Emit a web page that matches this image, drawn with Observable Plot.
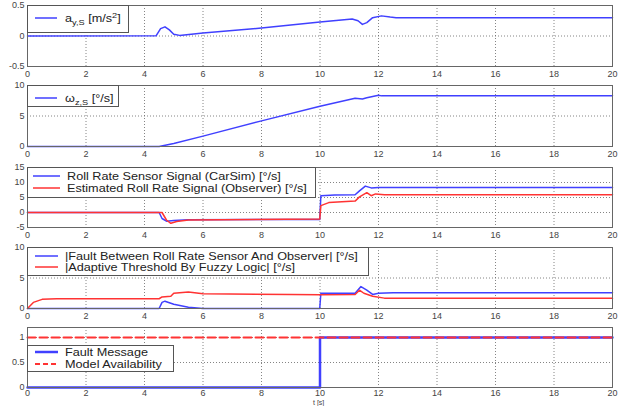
<!DOCTYPE html>
<html><head><meta charset="utf-8">
<script src="https://cdn.jsdelivr.net/npm/d3@7"></script>
<script src="https://cdn.jsdelivr.net/npm/@observablehq/plot@0.6"></script>
<style>
body{margin:0;background:#fff;font-family:"Liberation Sans",Arial,sans-serif;}
#wrap{position:relative;width:623px;height:406px;overflow:hidden;}
.pn{position:absolute;left:0;}
.lg{position:absolute;background:#fff;border:1px solid #555;box-sizing:border-box;}
.lt{position:absolute;font-size:11px;color:#222;white-space:nowrap;line-height:12px;transform:scaleX(1.15);transform-origin:0 50%;}
.ls{position:absolute;}
sub{font-size:8px;vertical-align:-3px;line-height:0;}
sup{font-size:8px;vertical-align:4px;line-height:0;}
</style></head>
<body><div id="wrap"></div>
<script>
// ---- data ----
const xTicks = [0, 2, 4, 6, 8, 10, 12, 14, 16, 18, 20];

// panel 1: lateral acceleration a_y,S [m/s^2]
const ayT = [0, 4.4, 4.55, 4.7, 4.85, 5.0, 5.2, 6, 8, 10, 11.1, 11.3, 11.45, 11.6, 11.8, 12.1, 12.4, 12.6, 15, 20];
const ayV = [0, 0.005, 0.12, 0.15, 0.1, 0.03, 0.01, 0.05, 0.13, 0.23, 0.28, 0.25, 0.19, 0.22, 0.3, 0.33, 0.31, 0.3, 0.3, 0.3];
const p1Ticks = [-0.5, 0, 0.5];

// panel 2: yaw rate omega_z,S [deg/s]
const wzT = [0, 4.5, 5, 6, 8, 10, 11.2, 11.45, 11.6, 12, 12.1, 20];
const wzV = [0, 0, 0.5, 1.7, 4.2, 6.6, 7.9, 7.8, 8.0, 8.4, 8.3, 8.3];
const p2Ticks = [0, 5, 10];

// panel 3: roll rate sensor vs observer [deg/s]
const rsT = [0, 4.5, 4.6, 4.75, 5.0, 5.5, 9.99, 10.03, 10.5, 11.2, 11.35, 11.55, 11.75, 12, 20];
const rsV = [0, 0, -2, -2.9, -2.7, -2.4, -2.3, 5.6, 5.8, 5.9, 7.2, 8.8, 8.2, 8.3, 8.3];
const roT = [0, 4.6, 4.75, 4.9, 5.1, 5.5, 9.99, 10.03, 10.3, 11.2, 11.35, 11.6, 11.75, 11.9, 12.2, 20];
const roV = [0, 0, -2.5, -3.6, -3, -2.5, -2.2, 2.3, 3.3, 3.8, 5.2, 6.6, 5.6, 6.2, 5.9, 5.9];
const p3Ticks = [-5, 0, 5, 10, 15];

// panel 4: fault residual and adaptive threshold [deg/s]
const fbT = [0, 4.5, 4.6, 4.7, 5, 5.5, 6, 9.99, 10.03, 11.2, 11.4, 11.6, 11.8, 12, 12.5, 20];
const fbV = [0, 0, 1.0, 1.2, 0.7, 0.2, 0, 0, 2.5, 2.5, 3.6, 3.0, 2.3, 2.5, 2.6, 2.6];
const thT = [0, 0.2, 0.5, 1, 4.5, 4.6, 4.9, 5.0, 5.5, 6, 9, 10, 11.2, 11.35, 11.5, 11.8, 12.2, 20];
const thV = [0, 1.0, 1.5, 1.6, 1.6, 1.9, 2.0, 2.5, 2.7, 2.4, 2.3, 2.25, 2.3, 3.0, 2.5, 2.0, 1.7, 1.7];
const p4Ticks = [0, 5, 10];

// panel 5: fault message and model availability
const fmT = [0, 10, 10, 20];
const fmV = [0, 0, 1, 1];
const maT = [0, 20];
const maV = [1, 1];
const p5Ticks = [0, 0.5, 1];

const BLUE = "#4040ff", RED = "#ff3333";

// ---- drawing ----
const wrap = document.getElementById("wrap");

function panel({top, mt, mb, h, yDomain, yTicks, series, pad = 4}) {
  const marks = [
    Plot.gridX(xTicks, {stroke: "#666", strokeOpacity: 1, strokeDasharray: "1,2", strokeWidth: 0.8}),
    Plot.gridY(yTicks, {stroke: "#666", strokeOpacity: 1, strokeDasharray: "1,2", strokeWidth: 0.8}),
    Plot.axisX(xTicks, {tickSize: 0, tickPadding: pad, tickFormat: d => String(d), label: null, fill: "#444"}),
    Plot.axisY(yTicks, {tickSize: 0, tickPadding: 3, tickFormat: d => String(d), label: null, fill: "#444"}),
  ];
  for (const s of series) {
    marks.push(Plot.line(s.t, {x: s.t, y: s.v, stroke: s.color, strokeWidth: s.w || 1.5,
      strokeDasharray: s.dash || null, curve: "linear"}));
  }
  marks.push(Plot.frame({stroke: "#666", strokeWidth: 1}));
  const svg = Plot.plot({
    width: 623, height: h, marginLeft: 27, marginRight: 11, marginTop: mt, marginBottom: mb,
    style: {fontSize: "9px", fontFamily: "'Liberation Sans',Arial,sans-serif", background: "transparent", overflow: "visible"},
    x: {domain: [0, 20]},
    y: {domain: yDomain},
    marks
  });
  svg.classList.add("pn");
  svg.style.top = top + "px";
  wrap.appendChild(svg);
}

panel({top: 0, mt: 5, mb: 12, h: 78, yDomain: [-0.5, 0.5], yTicks: p1Ticks,
  series: [{t: ayT, v: ayV, color: BLUE}]});
panel({top: 78, mt: 7, mb: 12, h: 80, yDomain: [0, 10], yTicks: p2Ticks,
  series: [{t: wzT, v: wzV, color: BLUE}]});
panel({top: 158, mt: 9, mb: 12, h: 81, yDomain: [-5, 15], yTicks: p3Ticks,
  series: [{t: rsT, v: rsV, color: BLUE}, {t: roT, v: roV, color: RED}]});
panel({top: 239, mt: 8, mb: 12, h: 81, yDomain: [0, 10], yTicks: p4Ticks,
  series: [{t: fbT, v: fbV, color: BLUE}, {t: thT, v: thV, color: RED}]});
panel({top: 320, mt: 7, mb: 19, h: 86, yDomain: [0, 1.2], yTicks: p5Ticks, pad: 2,
  series: [{t: fmT, v: fmV, color: BLUE, w: 2.5}, {t: maT, v: maV, color: RED, w: 2, dash: "8,4"}]});

// x label
const xl = document.createElement("div");
xl.style.cssText = "position:absolute;left:313px;top:399px;font-size:7px;line-height:7px;color:#444;white-space:nowrap;";
xl.textContent = "t [s]";
wrap.appendChild(xl);

// legends
function legend(box, rows) {
  const d = document.createElement("div");
  d.className = "lg";
  d.style.cssText = `left:${box.l}px;top:${box.t}px;width:${box.w}px;height:${box.h}px;`;
  wrap.appendChild(d);
  for (const r of rows) {
    const ns = "http://www.w3.org/2000/svg";
    const s = document.createElementNS(ns, "svg");
    s.setAttribute("class", "ls");
    s.setAttribute("width", r.x2 - r.x1);
    s.setAttribute("height", 6);
    s.style.left = r.x1 + "px";
    s.style.top = (r.y - 3) + "px";
    const ln = document.createElementNS(ns, "line");
    ln.setAttribute("x1", 0); ln.setAttribute("x2", r.x2 - r.x1);
    ln.setAttribute("y1", 3); ln.setAttribute("y2", 3);
    ln.setAttribute("stroke", r.color);
    ln.setAttribute("stroke-width", r.w || 1.5);
    if (r.dash) ln.setAttribute("stroke-dasharray", r.dash);
    s.appendChild(ln);
    wrap.appendChild(s);
    const t = document.createElement("div");
    t.className = "lt";
    t.style.left = r.tx + "px";
    t.style.top = (r.y - 6) + "px";
    t.innerHTML = r.html;
    wrap.appendChild(t);
  }
}

legend({l: 27, t: 5, w: 102, h: 28},
  [{x1: 35, x2: 57, y: 18, tx: 65, color: BLUE, html: "a<sub>y,S</sub> [m/s<sup>2</sup>]"}]);
legend({l: 27, t: 85, w: 92, h: 22},
  [{x1: 35, x2: 57, y: 98, tx: 65, color: BLUE, html: "ω<sub>z,S</sub> [°/s]"}]);
legend({l: 27, t: 167, w: 289, h: 31},
  [{x1: 33, x2: 60, y: 176, tx: 67, color: BLUE, html: "Roll Rate Sensor Signal (CarSim) [°/s]"},
   {x1: 33, x2: 60, y: 188, tx: 67, color: RED, html: "Estimated Roll Rate Signal (Observer) [°/s]"}]);
legend({l: 27, t: 247, w: 342, h: 29},
  [{x1: 35, x2: 58, y: 256, tx: 65, color: BLUE, html: "|Fault Between Roll Rate Sensor And Observer| [°/s]"},
   {x1: 35, x2: 58, y: 267, tx: 65, color: RED, html: "|Adaptive Threshold By Fuzzy Logic| [°/s]"}]);
legend({l: 27, t: 345, w: 147, h: 27},
  [{x1: 35, x2: 58, y: 352, tx: 65, color: BLUE, w: 2.5, html: "Fault Message"},
   {x1: 35, x2: 58, y: 364, tx: 65, color: RED, w: 2, dash: "5,3", html: "Model Availability"}]);
</script>
</body></html>
